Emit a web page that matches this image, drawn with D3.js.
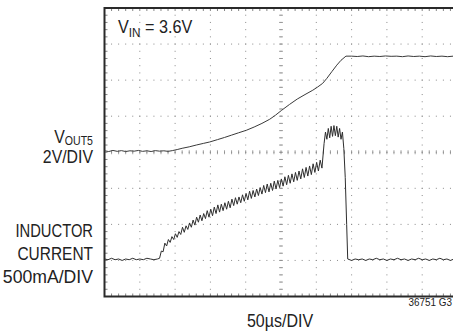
<!DOCTYPE html>
<html>
<head>
<meta charset="utf-8">
<script src="https://cdn.jsdelivr.net/npm/d3@7"></script>
<style>
  body { margin: 0; background: #fff; }
  svg { display: block; }
  text { font-family: "Liberation Sans", Arial, sans-serif; fill: #222; }
</style>
</head>
<body>
<svg id="chart" width="453" height="335"></svg>
<script>
// scope screen: 10 divisions of 50us across, 8 divisions up
var timePerDiv = 50
var voltsPerDiv = 2
var ampsPerDiv = 0.5
var currentZeroDiv = -3 // inductor current ground marker sits 3 div below center

// VOUT5 trace [time us, volts]
var voutTrace = [
  [0,0.08],[6,0.04],[12,0.1],[18,0.05],[24,0.09],[30,0.04],[36,0.08],[42,0.06],[48,0.1],[54,0.05],
  [60,0.08],[66,0.04],[72,0.09],[78,0.06],[84,0.08],[90,0.05],[96,0.09],[103,0.15],[110,0.22],[120,0.3],
  [130,0.4],[140,0.49],[149,0.57],[160,0.7],[170,0.82],[180,0.95],[190,1.08],[201,1.22],[212,1.4],[223,1.6],
  [234,1.83],[242,2.05],[251,2.33],[262,2.65],[273,2.95],[284,3.2],[295,3.44],[302,3.62],[309,3.82],[315,4.1],
  [322,4.47],[329,4.83],[335,5.1],[342,5.33],[350,5.33],[358,5.31],[366,5.34],[374,5.3],[382,5.33],[390,5.31],
  [398,5.34],[406,5.32],[414,5.33],[422,5.3],[430,5.34],[438,5.31],[446,5.33],[454,5.3],[462,5.34],[470,5.31],
  [478,5.33],[486,5.3],[494,5.33],[500,5.32]
]

// inductor current trace [time us, amps]
var inductorTrace = [
  [0,0.02],[5,0.01],[10,0.03],[15,0.01],[20,0.02],[25,0.0],[30,0.02],[35,0.01],[40,0.03],[45,0.01],
  [50,0.02],[55,0.01],[60,0.03],[65,0.02],[70,0.01],[75,0.02],[78,0.03],
  [80.5,0.13],[83,0.12],[85.5,0.24],[88,0.2],[90.5,0.29],[93,0.25],[95.5,0.33],[98,0.29],[100.5,0.37],
  [103,0.32],[105.5,0.4],[108,0.36],[110.5,0.46],[113,0.39],[115.5,0.48],[118,0.43],[120.5,0.52],[123,0.46],
  [125.5,0.56],[128,0.49],[130.5,0.6],[133,0.53],[135.5,0.63],[138,0.55],[140.5,0.65],[143,0.58],[145.5,0.69],
  [148,0.6],[150.5,0.71],[153,0.62],[155.5,0.74],[158,0.65],[160.5,0.77],[163,0.67],[165.5,0.78],[168,0.69],
  [170.5,0.8],[173,0.71],[175.5,0.82],[178,0.73],[180.5,0.85],[183,0.76],[185.5,0.87],[188,0.78],[190.5,0.88],
  [193,0.8],[195.5,0.91],[198,0.82],[200.5,0.93],[203,0.84],[205.5,0.96],[208,0.86],[210.5,0.97],[213,0.88],
  [215.5,0.99],[218,0.9],[220.5,1.01],[223,0.92],[225.5,1.04],[228,0.94],[230.5,1.06],[233,0.95],[235.5,1.07],
  [238,0.97],[240.5,1.1],[243,0.99],[245.5,1.11],[248,1.01],[250.5,1.13],[253,1.03],[255.5,1.16],[258,1.05],
  [260.5,1.18],[263,1.07],[265.5,1.2],[268,1.09],[270.5,1.22],[273,1.11],[275.5,1.24],[278,1.13],[280.5,1.27],
  [283,1.15],[285.5,1.29],[288,1.17],[290.5,1.31],[293,1.19],[295.5,1.34],[298,1.22],[300.5,1.36],[303,1.24],
  [305.5,1.39],[308,1.28],[311,1.62],[313,1.78],[315,1.68],[317,1.83],[319,1.7],[321,1.86],[323,1.72],
  [325,1.87],[327,1.73],[329,1.86],[331,1.71],[333,1.83],[335,1.68],[337,1.78],[339,1.55],[341,1.15],
  [343,0.5],[344.5,0.02],[350,0.0],[355,0.02],[360,0.01],[365,0.02],[370,0.0],[375,0.02],[380,0.01],
  [385,0.03],[390,0.01],[395,0.02],[400,0.0],[405,0.02],[410,0.01],[415,0.03],[420,0.01],[425,0.02],
  [430,0.0],[435,0.02],[440,0.01],[445,0.03],[450,0.01],[455,0.02],[460,0.0],[465,0.02],[470,0.01],
  [475,0.03],[480,0.01],[485,0.02],[490,0.0],[495,0.02],[500,0.01]
]

var svg = d3.select('#chart')

var xPositionScale = d3.scaleLinear().domain([0, 10 * timePerDiv]).range([104.5, 457.5])
var yPositionScale = d3.scaleLinear().domain([-4, 4]).range([296.5, 8])

var minorTimes = d3.range(0, 10 * timePerDiv + 0.01, timePerDiv / 5)
var minorDivs = d3.range(-4, 4.01, 0.2)
var majorTimes = d3.range(0, 10 * timePerDiv + 0.01, timePerDiv)
var majorDivs = d3.range(-4, 4.01, 1)

var grid = svg.append('g').attr('class', 'grid')

// dotted gridlines: dots at every minor step
majorTimes.slice(1, -1).forEach(function(t) {
  grid.selectAll(null)
    .data(minorDivs)
    .enter()
    .append('rect')
    .attr('x', xPositionScale(t) - 0.5)
    .attr('y', d => yPositionScale(d) - 0.5)
    .attr('width', 1)
    .attr('height', 1)
    .attr('fill', '#8a8a8a')
})
majorDivs.slice(1, -1).forEach(function(v) {
  grid.selectAll(null)
    .data(minorTimes)
    .enter()
    .append('rect')
    .attr('x', d => xPositionScale(d) - 0.5)
    .attr('y', yPositionScale(v) - 0.5)
    .attr('width', 1)
    .attr('height', 1)
    .attr('fill', '#8a8a8a')
})

// center crosshair ticks
grid.selectAll('.hTick')
  .data(minorTimes)
  .enter()
  .append('line')
  .attr('x1', d => xPositionScale(d))
  .attr('x2', d => xPositionScale(d))
  .attr('y1', yPositionScale(0) - 2)
  .attr('y2', yPositionScale(0) + 2)
  .attr('stroke', '#8a8a8a')
  .attr('stroke-width', 0.8)
grid.selectAll('.vTick')
  .data(minorDivs)
  .enter()
  .append('line')
  .attr('x1', xPositionScale(5 * timePerDiv) - 2)
  .attr('x2', xPositionScale(5 * timePerDiv) + 2)
  .attr('y1', d => yPositionScale(d))
  .attr('y2', d => yPositionScale(d))
  .attr('stroke', '#8a8a8a')
  .attr('stroke-width', 0.8)

// border ticks pointing inward
grid.selectAll('.topTick')
  .data(minorTimes)
  .enter()
  .append('line')
  .attr('x1', d => xPositionScale(d))
  .attr('x2', d => xPositionScale(d))
  .attr('y1', yPositionScale(4))
  .attr('y2', yPositionScale(4) + 3)
  .attr('stroke', '#666')
  .attr('stroke-width', 0.8)
grid.selectAll('.botTick')
  .data(minorTimes)
  .enter()
  .append('line')
  .attr('x1', d => xPositionScale(d))
  .attr('x2', d => xPositionScale(d))
  .attr('y1', yPositionScale(-4))
  .attr('y2', yPositionScale(-4) - 3)
  .attr('stroke', '#666')
  .attr('stroke-width', 0.8)
grid.selectAll('.leftTick')
  .data(minorDivs)
  .enter()
  .append('line')
  .attr('x1', xPositionScale(0))
  .attr('x2', xPositionScale(0) + 3)
  .attr('y1', d => yPositionScale(d))
  .attr('y2', d => yPositionScale(d))
  .attr('stroke', '#666')
  .attr('stroke-width', 0.8)

// frame
svg.append('rect')
  .attr('x', xPositionScale(0))
  .attr('y', yPositionScale(4))
  .attr('width', xPositionScale(10 * timePerDiv) - xPositionScale(0))
  .attr('height', yPositionScale(-4) - yPositionScale(4))
  .attr('fill', 'none')
  .attr('stroke', '#2a2a2a')
  .attr('stroke-width', 2)

// traces
var voutLine = d3.line()
  .x(d => xPositionScale(d[0]))
  .y(d => yPositionScale(d[1] / voltsPerDiv))

var inductorLine = d3.line()
  .x(d => xPositionScale(d[0]))
  .y(d => yPositionScale(d[1] / ampsPerDiv + currentZeroDiv))

svg.append('path')
  .datum(voutTrace)
  .attr('d', voutLine)
  .attr('fill', 'none')
  .attr('stroke', '#3a3a3a')
  .attr('stroke-width', 1)

svg.append('path')
  .datum(inductorTrace)
  .attr('d', inductorLine)
  .attr('fill', 'none')
  .attr('stroke', '#2e2e2e')
  .attr('stroke-width', 1)

// labels (condensed look: squeeze horizontally)
function squeezed(x, y, sx, anchor) {
  return svg.append('text')
    .attr('transform', 'translate(' + x + ',' + y + ') scale(' + sx + ',1)')
    .attr('font-size', 18)
    .attr('text-anchor', anchor)
}

var vin = squeezed(118, 33, 0.9, 'start')
vin.append('tspan').text('V')
vin.append('tspan').text('IN').attr('font-size', 13).attr('dy', 4)
vin.append('tspan').text(' = 3.6V').attr('dy', -4)

var vout = squeezed(93, 143, 0.88, 'end')
vout.append('tspan').text('V')
vout.append('tspan').text('OUT5').attr('font-size', 12).attr('dy', 2)

squeezed(93, 163, 0.88, 'end').text('2V/DIV')
squeezed(93, 237, 0.82, 'end').text('INDUCTOR')
squeezed(93, 260, 0.86, 'end').text('CURRENT')
squeezed(93, 283, 0.98, 'end').text('500mA/DIV')
squeezed(280, 327, 0.89, 'middle').text('50µs/DIV')

svg.append('text').text('36751 G3')
  .attr('transform', 'translate(452,306) scale(0.9,1)')
  .attr('font-size', 11)
  .attr('text-anchor', 'end')
</script>
</body>
</html>
